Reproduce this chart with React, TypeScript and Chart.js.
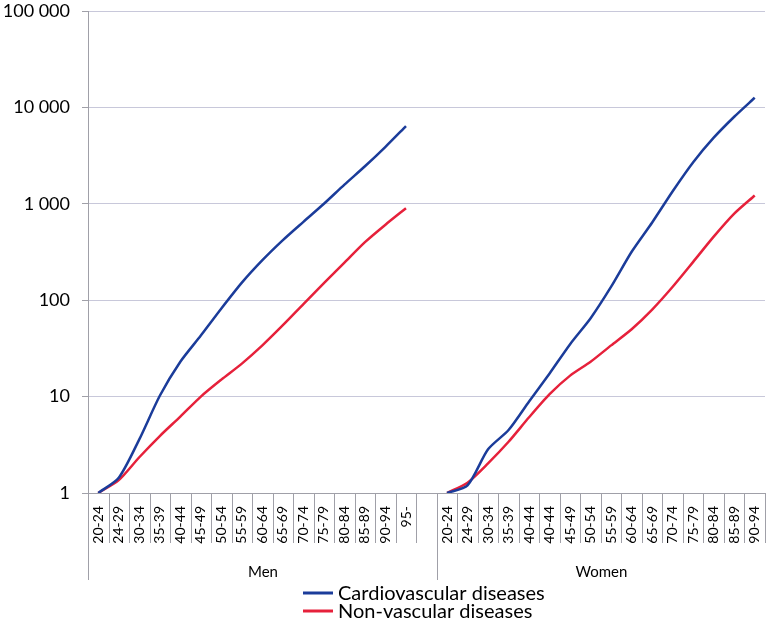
import React, { useEffect, useRef } from 'react';
import { Chart, registerables } from 'chart.js';

Chart.register(...registerables);

// ---- data ----
const menAgeGroups = ['20-24', '24-29', '30-34', '35-39', '40-44', '45-49', '50-54', '55-59', '60-64', '65-69', '70-74', '75-79', '80-84', '85-89', '90-94', '95-', ''];
const womenAgeGroups = ['20-24', '24-29', '30-34', '35-39', '40-44', '40-44', '45-49', '50-54', '55-59', '60-64', '65-69', '70-74', '75-79', '80-84', '85-89', '90-94'];
const groupLabels = ['Men', 'Women'];

const menCardio = [1.0, 1.44, 3.6, 10.2, 23, 43, 82, 152, 260, 420, 650, 1000, 1580, 2450, 3900, 6400];
const menNonVascular = [1.0, 1.36, 2.35, 3.9, 6.2, 10, 15, 22, 34, 55, 91, 150, 245, 400, 607, 900];
const womenCardio = [1.0, 1.2, 2.84, 4.5, 8.9, 17.4, 35, 65, 138, 318, 640, 1350, 2700, 4850, 8000, 12600];
const womenNonVascular = [1.0, 1.28, 2.03, 3.4, 6.1, 10.6, 16.5, 23, 34, 50, 80, 138, 250, 456, 790, 1220];

const yTickValues = [1, 10, 100, 1000, 10000, 100000];
const seriesNames = ['Cardiovascular diseases', 'Non-vascular diseases'];
const seriesColors = ['#1b3c9a', '#e6213b'];

// ---- derived ----
const categories = [...menAgeGroups, ...womenAgeGroups];
const menGap = new Array(menAgeGroups.length - menCardio.length).fill(null);
const cardioSeries = [...menCardio, ...menGap, ...womenCardio];
const nonVascularSeries = [...menNonVascular, ...menGap, ...womenNonVascular];

const FONT = 'Lato, "Open Sans", sans-serif';

const formatThousands = (v: number) => String(v).replace(/\B(?=(\d{3})+(?!\d))/g, ' ');

const decorPlugin = {
  id: 'decor',
  afterDraw(chart: any) {
    const { ctx, chartArea } = chart;
    const x = chart.scales.x;
    const n = categories.length;
    const step = x.getPixelForValue(1) - x.getPixelForValue(0);
    const base = chartArea.bottom;
    const groupStarts = [0, menAgeGroups.length];
    ctx.save();
    ctx.strokeStyle = '#a0a0a8';
    ctx.lineWidth = 1;
    const bounds: number[] = [];
    for (let i = 0; i <= n; i++) {
      const bx = Math.round(x.getPixelForValue(i) - step / 2) + 0.5;
      bounds.push(bx);
      const long = groupStarts.includes(i);
      ctx.beginPath();
      ctx.moveTo(bx, base);
      ctx.lineTo(bx, base + (long ? 87 : 50));
      ctx.stroke();
    }
    // group labels
    ctx.fillStyle = '#000';
    ctx.font = `15px ${FONT}`;
    ctx.textAlign = 'center';
    ctx.textBaseline = 'middle';
    const groupEnds = [menAgeGroups.length, n];
    groupLabels.forEach((g, gi) => {
      const cx = (bounds[groupStarts[gi]] + bounds[groupEnds[gi]]) / 2;
      ctx.fillText(g, cx, base + 79);
    });
    // legend
    const legX = 303;
    const legY = [593, 611];
    ctx.font = `20px ${FONT}`;
    ctx.textAlign = 'left';
    seriesNames.forEach((name, i) => {
      ctx.strokeStyle = seriesColors[i];
      ctx.lineWidth = 3;
      ctx.beginPath();
      ctx.moveTo(legX, legY[i]);
      ctx.lineTo(legX + 30, legY[i]);
      ctx.stroke();
      ctx.fillStyle = '#000';
      ctx.fillText(name, legX + 35, legY[i] + 1);
    });
    ctx.restore();
  },
};

export default function App() {
  const ref = useRef<HTMLCanvasElement | null>(null);
  useEffect(() => {
    document.body.style.margin = '0';
    if (!ref.current) return;
    const chart = new Chart(ref.current, {
      type: 'line',
      data: {
        labels: categories,
        datasets: [
          {
            label: seriesNames[0],
            data: cardioSeries,
            borderColor: seriesColors[0],
            backgroundColor: seriesColors[0],
            borderWidth: 2.5,
            pointRadius: 0,
            tension: 0.25,
            spanGaps: false,
          },
          {
            label: seriesNames[1],
            data: nonVascularSeries,
            borderColor: seriesColors[1],
            backgroundColor: seriesColors[1],
            borderWidth: 2.5,
            pointRadius: 0,
            tension: 0.25,
            spanGaps: false,
          },
        ],
      },
      options: {
        responsive: false,
        animation: false,
        layout: { padding: { top: 11, right: 6, left: 0, bottom: 0 } },
        plugins: {
          legend: { display: false },
          tooltip: { enabled: false },
        },
        scales: {
          x: {
            type: 'category',
            offset: true,
            grid: { display: false, drawTicks: false },
            border: { display: true, color: '#a0a0a8' },
            ticks: {
              autoSkip: false,
              minRotation: 90,
              maxRotation: 90,
              padding: 13,
              color: '#000',
              font: { family: FONT, size: 14 },
            },
            afterFit: (s: any) => {
              s.height = 131;
              s.paddingLeft = 0;
              s.paddingRight = 0;
            },
          },
          y: {
            type: 'logarithmic',
            min: 1,
            max: 100000,
            afterBuildTicks: (s: any) => {
              s.ticks = yTickValues.map((v) => ({ value: v, major: true }));
            },
            grid: { color: '#c8c8da', tickLength: 6, tickColor: '#a0a0a8' },
            border: { display: true, color: '#a0a0a8' },
            ticks: {
              padding: 12,
              color: '#000',
              font: { family: FONT, size: 18 },
              callback: (v: any) => formatThousands(Number(v)),
            },
            afterFit: (s: any) => {
              s.width = 88;
              s.paddingTop = 0;
              s.paddingBottom = 0;
            },
          },
        },
      },
      plugins: [decorPlugin],
    });
    return () => chart.destroy();
  }, []);
  return (
    <div style={{ width: 771, height: 624, background: '#fff' }}>
      <canvas ref={ref} width={771} height={624} />
    </div>
  );
}
